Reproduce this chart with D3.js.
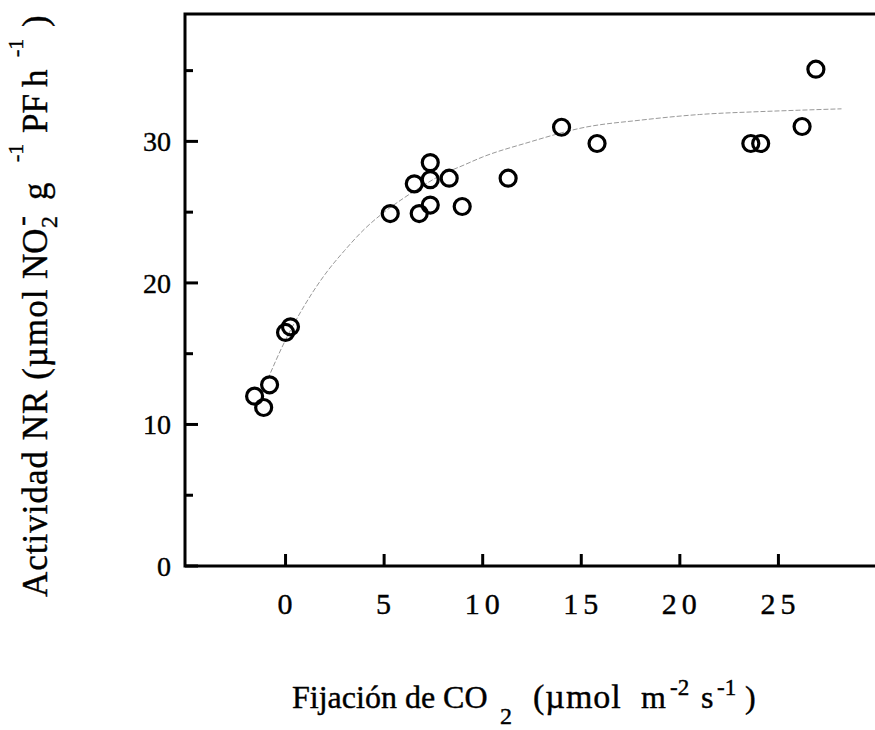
<!DOCTYPE html>
<html><head><meta charset="utf-8">
<script src="https://cdn.jsdelivr.net/npm/d3@7"></script>
<style>body{margin:0;background:#fff}</style>
</head><body>
<svg id="c" width="875" height="730"></svg>
<script>
// Data
const fixCO2 = [-1.57, -1.11, -0.81, 0.0, 0.25, 5.31, 6.53, 6.78, 7.34, 7.34, 7.34, 8.3, 8.96, 11.29, 14.0, 15.8, 23.6, 24.1, 26.2, 26.9];
const actNR  = [12.0, 11.2, 12.8, 16.5, 16.9, 24.9, 27.0, 24.9, 28.5, 27.3, 25.5, 27.4, 25.4, 27.4, 31.0, 29.85, 29.85, 29.85, 31.05, 35.1];
const curveX = [-0.9, -0.2, 1, 2, 3, 4, 5, 6, 7, 8, 9, 10, 12.25, 15.2, 18, 21, 24, 26, 28.2];
const curveY = [13.2, 15.4, 18.5, 20.6, 22.3, 23.8, 25.0, 26.0, 26.9, 27.7, 28.3, 28.9, 29.9, 31.0, 31.5, 31.9, 32.1, 32.2, 32.3];
const xTicks = [0, 5, 10, 15, 20, 25];
const yMajor = [0, 10, 20, 30];
const yMinor = [5, 15, 25, 35];

const svg = d3.select("#c");
const font = "'Liberation Serif', 'Times New Roman', serif";
const x = d3.scaleLinear().domain([-5.1, 30]).range([185, 877]);
const y = d3.scaleLinear().domain([0, 39]).range([566, 14]);

// frame: left, bottom, top (right side cropped)
svg.append("path")
  .attr("d", `M877,${y(39)} H${x(-5.1)} V${y(0)} H877`)
  .attr("fill", "none").attr("stroke", "#000").attr("stroke-width", 3);

// y ticks
const gy = svg.append("g");
gy.selectAll("line.maj").data(yMajor).join("line")
  .attr("x1", x(-5.1)).attr("x2", x(-5.1) + 13)
  .attr("y1", d => y(d)).attr("y2", d => y(d))
  .attr("stroke", "#000").attr("stroke-width", 3);
gy.selectAll("line.min").data(yMinor).join("line")
  .attr("x1", x(-5.1)).attr("x2", x(-5.1) + 8)
  .attr("y1", d => y(d)).attr("y2", d => y(d))
  .attr("stroke", "#000").attr("stroke-width", 3);
gy.selectAll("text").data(yMajor).join("text")
  .attr("x", 171).attr("y", d => y(d)).attr("dy", "0.35em")
  .attr("text-anchor", "end").attr("font-family", font).attr("font-size", 28)
  .attr("stroke", "#000").attr("stroke-width", 0.4)
  .text(d => d);

// x ticks
const gx = svg.append("g");
gx.selectAll("line").data(xTicks).join("line")
  .attr("x1", d => x(d)).attr("x2", d => x(d))
  .attr("y1", y(0)).attr("y2", y(0) - 12)
  .attr("stroke", "#000").attr("stroke-width", 3);
gx.selectAll("text").data(xTicks).join("text")
  .attr("x", d => x(d) + 2).attr("y", 614)
  .attr("text-anchor", "middle").attr("font-family", font).attr("font-size", 30)
  .attr("letter-spacing", 5).attr("stroke", "#000").attr("stroke-width", 0.4)
  .text(d => d);

// fitted curve
const pts = curveX.map((v, i) => [v, curveY[i]]);
svg.append("path").datum(pts)
  .attr("d", d3.line().x(d => x(d[0])).y(d => y(d[1])).curve(d3.curveMonotoneX))
  .attr("fill", "none").attr("stroke", "#999").attr("stroke-width", 1)
  .attr("stroke-dasharray", "5 2");

// points
svg.append("g").selectAll("circle").data(fixCO2).join("circle")
  .attr("cx", d => x(d)).attr("cy", (d, i) => y(actNR[i])).attr("r", 8)
  .attr("fill", "none").attr("stroke", "#000").attr("stroke-width", 3.2);

// helper for titles built from pieces
function pieces(g, parts) {
  parts.forEach(p => {
    const t = g.append("text").attr("x", p[1]).attr("y", p[2])
      .attr("font-family", font).attr("font-size", p[3])
      .attr("stroke", "#000").attr("stroke-width", 0.4)
      .text(p[0]);
    if (p[4]) t.attr("letter-spacing", p[4]);
  });
}

// x axis title
const xt = svg.append("g");
pieces(xt, [
  ["Fijación de CO", 292, 708, 32],
  ["2", 500, 724, 24],
  ["(µmol", 533, 708, 34, 1],
  ["m", 641, 708, 32],
  ["-2", 670, 695, 23],
  ["s", 701, 708, 32],
  ["-1", 717, 695, 23],
  [")", 745, 708, 32]
]);

// y axis title (rotated)
const yt = svg.append("g").attr("transform", "translate(47,597) rotate(-90)");
pieces(yt, [
  ["Actividad NR (µmol", 0, 0, 35, 1],
  ["NO", 318, 0, 35],
  ["2", 369, 10, 24],
  ["-", 371, -16, 30],
  ["g", 397, 0, 35],
  ["-1", 435, -24, 22],
  ["PF", 464, 0, 35],
  ["h", 510, 0, 35],
  ["-1", 540, -24, 22],
  [")", 570, 0, 35]
]);
</script>
</body></html>
